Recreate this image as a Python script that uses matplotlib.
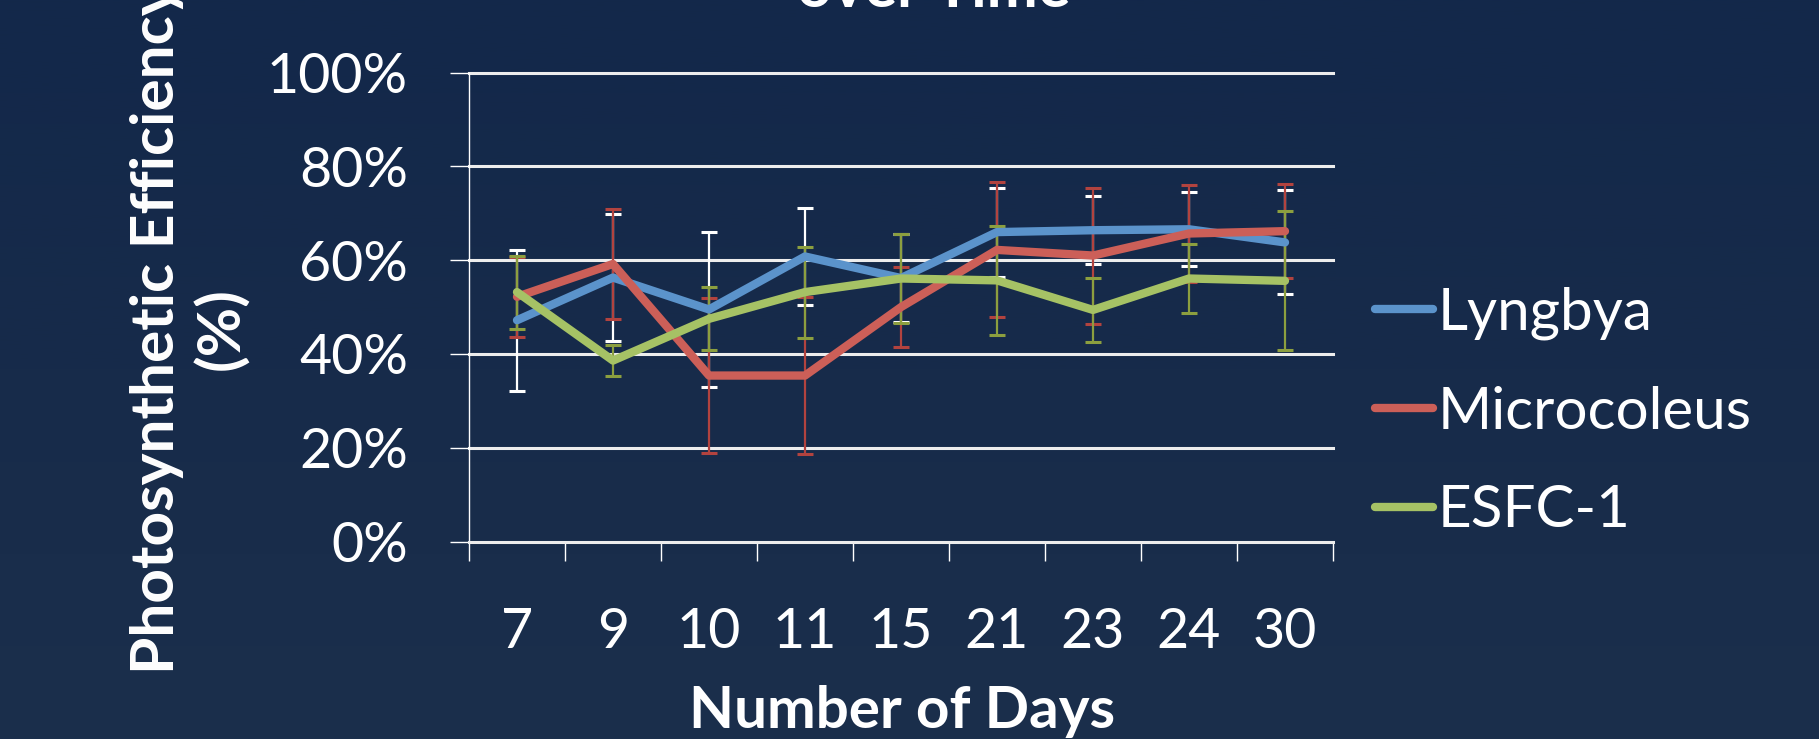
import numpy as np
import matplotlib
matplotlib.use("Agg")
import matplotlib.pyplot as plt
from matplotlib.colors import LinearSegmentedColormap
from matplotlib.lines import Line2D
from matplotlib.ticker import FixedLocator, FuncFormatter

days = ["7", "9", "10", "11", "15", "21", "23", "24", "30"]
series_names = ["Lyngbya", "Microcoleus", "ESFC-1"]
lyngbya = [0.472, 0.563, 0.495, 0.608, 0.562, 0.660, 0.664, 0.666, 0.638]
lyngbya_err = [0.150, 0.136, 0.165, 0.104, 0.093, 0.095, 0.073, 0.079, 0.111]
microcoleus = [0.522, 0.592, 0.354, 0.354, 0.500, 0.622, 0.610, 0.657, 0.662]
microcoleus_err = [0.085, 0.118, 0.165, 0.168, 0.085, 0.144, 0.145, 0.104, 0.100]
esfc1 = [0.532, 0.386, 0.475, 0.532, 0.561, 0.557, 0.494, 0.561, 0.556]
esfc1_err = [0.078, 0.034, 0.067, 0.097, 0.094, 0.117, 0.069, 0.073, 0.148]
yticks = [0, 0.2, 0.4, 0.6, 0.8, 1.0]

values = [lyngbya, microcoleus, esfc1]
errors = [lyngbya_err, microcoleus_err, esfc1_err]
line_colors = ["#5B93CB", "#CC5F58", "#A6C265"]
err_colors = ["#FFFFFF", "#B2433F", "#8C9F3F"]

FONT = "Lato"
W, H, DPI = 1819, 739, 100
fig = plt.figure(figsize=(W / DPI, H / DPI), dpi=DPI)

# background gradient
bg = fig.add_axes([0, 0, 1, 1], zorder=-10)
cmap = LinearSegmentedColormap.from_list("bg", ["#13284A", "#172B4A", "#1B2F4C"])
bg.imshow(np.linspace(0, 1, 256).reshape(-1, 1), aspect="auto", cmap=cmap,
          extent=[0, 1, 0, 1])
bg.set_axis_off()

ax = fig.add_axes([469 / W, 1 - 541.5 / H, (1333 - 469) / W, (541.5 - 72.7) / H])
ax.patch.set_alpha(0)
x = np.arange(len(days))
ax.set_xlim(-0.5, len(days) - 0.5)
ax.set_ylim(0, 1)

# gridlines
for yv in yticks[1:]:
    ax.axhline(yv, color="#EDEDED", lw=2.2, zorder=1, clip_on=False)

for i in range(3):
    ax.errorbar(x, values[i], yerr=errors[i], fmt="none", ecolor=err_colors[i],
                elinewidth=1.6, capsize=5.5, capthick=2.2, zorder=2 + i * 0.1)
for i in range(3):
    ax.plot(x, values[i], color=line_colors[i], lw=6.0, solid_capstyle="round",
            solid_joinstyle="round", zorder=5 + i)

for s in ["top", "right"]:
    ax.spines[s].set_visible(False)
ax.spines["left"].set_color("white")
ax.spines["left"].set_linewidth(1.0)
ax.spines["bottom"].set_color("#EDEDED")
ax.spines["bottom"].set_linewidth(2.2)

ax.yaxis.set_major_locator(FixedLocator(yticks))
ax.yaxis.set_major_formatter(FuncFormatter(lambda v, p: f"{v * 100:.0f}%"))
ax.tick_params(axis="y", direction="out", length=14, width=1.0, color="white",
               labelcolor="white", labelsize=40, pad=30)

ax.xaxis.set_major_locator(FixedLocator(np.arange(len(days) + 1) - 0.5))
ax.xaxis.set_minor_locator(FixedLocator(x))
ax.set_xticks(x, days, minor=True)
ax.tick_params(axis="x", which="major", direction="out", length=14, width=1.0,
               color="white", labelbottom=False)
ax.tick_params(axis="x", which="minor", length=0, labelcolor="white",
               labelsize=40, pad=47)
for lab in ax.get_xticklabels(minor=True) + ax.get_yticklabels():
    lab.set_fontfamily(FONT)

fig.text(902 / W, 1 - 712 / H, "Number of Days", ha="center", va="center",
         color="white", fontsize=42, fontweight="bold", family=FONT)
fig.text(190 / W, 1 - 329 / H, "Photosynthetic Efficiency\n(%)", ha="center",
         va="center", rotation=90, multialignment="center", color="white",
         fontsize=43.5, fontweight="bold", family=FONT, linespacing=1.2)
fig.text(934 / W, 1 - 7 / H, "Photosynthetic Efficiency\nover Time", ha="center",
         va="baseline", color="white", fontsize=44, fontweight="bold", family=FONT)

handles = [Line2D([], [], color=c, lw=6.0, solid_capstyle="round") for c in line_colors]
leg = fig.legend(handles, series_names, loc="center left",
                 bbox_to_anchor=(1375 / W, 1 - 412 / H), frameon=False,
                 handlelength=1.0, handletextpad=0.08, labelspacing=0.78,
                 borderaxespad=0, borderpad=0,
                 prop={"family": FONT, "size": 42})
for t in leg.get_texts():
    t.set_color("white")

fig.savefig("out.png", dpi=DPI, facecolor="#15294A")
